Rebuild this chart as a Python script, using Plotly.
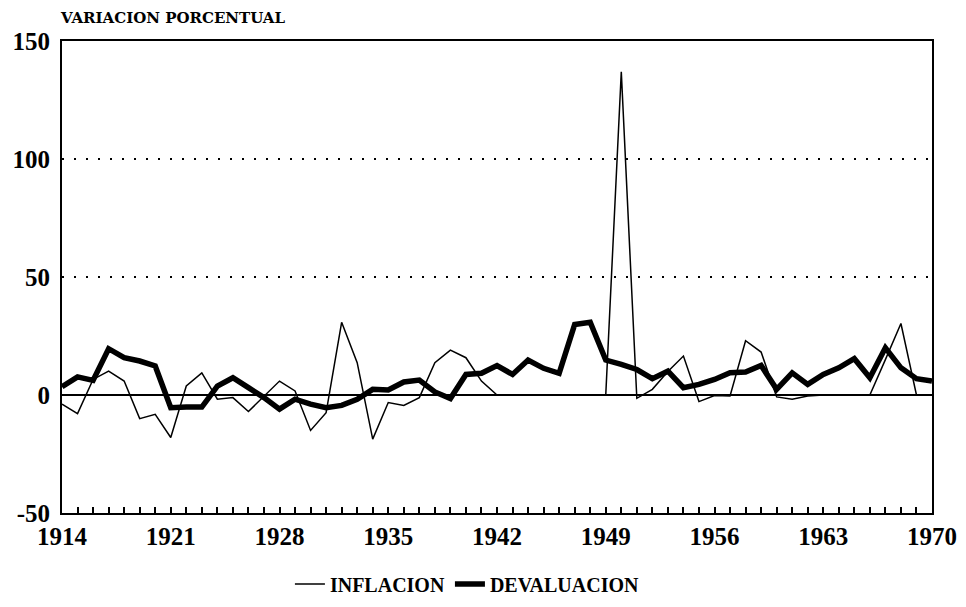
import plotly.graph_objects as go

# Years and annual percentage changes
years = list(range(1914, 1971))

inflacion = [
    -3.9, -7.9, 6.6, 10.1, 5.9, -10.0, -8.2, -18.0, 3.8, 9.4,
    -1.8, -1.1, -7.0, -0.4, 5.9, 1.7, -15.0, -7.5, 30.8, 13.7,
    -18.7, -3.2, -4.4, -1.1, 13.7, 19.0, 15.8, 5.9, 0.0, 0.0,
    0.0, 0.0, 0.0, 0.0, 0.0, 0.0, 137.0, -1.4, 2.4, 10.0,
    16.5, -2.8, -0.2, -0.4, 23.0, 18.2, -0.8, -1.8, -0.4, 0.0,
    0.0, 0.0, 0.0, 15.0, 30.3, 0.0, 0.0,
]

devaluacion = [
    3.5, 7.7, 6.2, 19.6, 15.8, 14.4, 12.3, -5.4, -5.1, -5.1,
    3.8, 7.3, 3.1, -1.1, -6.0, -1.8, -3.9, -5.4, -4.4, -1.8,
    2.4, 2.1, 5.5, 6.3, 1.3, -1.5, 8.7, 9.2, 12.5, 8.7,
    14.8, 11.3, 9.2, 29.9, 30.8, 14.8, 13.0, 10.8, 6.9, 10.1,
    3.1, 4.5, 6.6, 9.4, 9.7, 12.5, 2.4, 9.4, 4.5, 8.7,
    11.5, 15.4, 7.3, 20.0, 11.5, 6.9, 5.9,
]

x_ticks = [1914, 1921, 1928, 1935, 1942, 1949, 1956, 1963, 1970]
y_ticks = [-50, 0, 50, 100, 150]

serif = "Liberation Serif, Times New Roman, serif"
wide_serif = "DejaVu Serif, serif"

fig = go.Figure()

fig.add_trace(go.Scatter(
    x=years, y=inflacion, mode="lines", name="INFLACION",
    line=dict(color="black", width=1.5),
))
fig.add_trace(go.Scatter(
    x=years, y=devaluacion, mode="lines", name="DEVALUACION",
    line=dict(color="black", width=5.5),
))

# the page body adds an 8px offset, so margins are shifted to compensate
fig.update_layout(
    width=966, height=607,
    margin=dict(l=54, r=42, t=33, b=101),
    paper_bgcolor="white", plot_bgcolor="white",
    font=dict(family=serif, color="black"),
    showlegend=True,
    legend=dict(
        orientation="h", x=0.466, xanchor="center", y=-0.107, yanchor="top",
        font=dict(size=20, family=serif, weight="bold"),
        itemwidth=30, tracegroupgap=0,
    ),
)

fig.update_xaxes(
    range=[1914, 1970], automargin=False,
    tickvals=x_ticks, ticktext=[str(v) for v in x_ticks],
    tickfont=dict(size=25, family=serif, weight="bold"),
    ticks="inside", ticklen=6, tickwidth=1.5, tickcolor="black",
    minor=dict(dtick=1, tick0=1914, ticks="inside", ticklen=6,
               tickwidth=1.5, tickcolor="black", showgrid=False),
    showgrid=False, zeroline=False,
    showline=True, linecolor="black", linewidth=2, mirror=True,
)

fig.update_yaxes(
    range=[-50, 150], automargin=False,
    tickvals=y_ticks, ticktext=[str(v) for v in y_ticks],
    tickfont=dict(size=25, family=serif, weight="bold"),
    ticks="", ticklabelstandoff=5,
    showgrid=True, gridcolor="black", gridwidth=2, griddash="2px,10px",
    zeroline=True, zerolinecolor="black", zerolinewidth=2,
    showline=True, linecolor="black", linewidth=2, mirror=True,
)

fig.add_annotation(
    text="VARIACION PORCENTUAL", xref="paper", yref="paper",
    x=-0.005, y=1.048, xanchor="left", yanchor="middle", showarrow=False,
    font=dict(size=15, family=wide_serif, weight="bold"),
)

fig.write_html("out.html")
